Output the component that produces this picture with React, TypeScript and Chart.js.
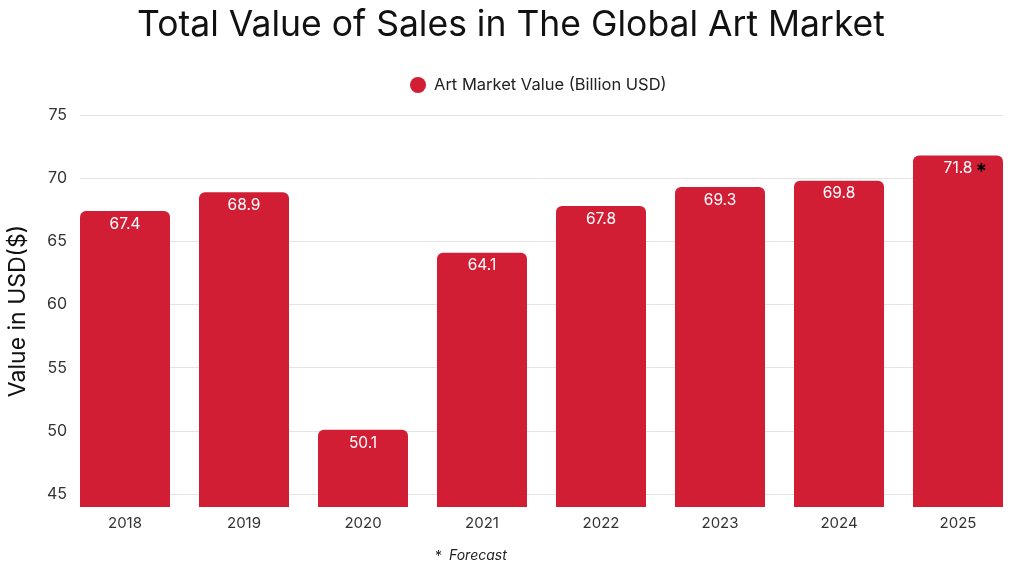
import React, { useEffect, useRef } from "react";
import { Chart, registerables } from "chart.js";

Chart.register(...registerables);

const categories = ["2018", "2019", "2020", "2021", "2022", "2023", "2024", "2025"];
const values = [67.4, 68.9, 50.1, 64.1, 67.8, 69.3, 69.8, 71.8];
const forecast = [false, false, false, false, false, false, false, true];
const yTicks = [45, 50, 55, 60, 65, 70, 75];
const seriesName = "Art Market Value (Billion USD)";
const titleText = "Total Value of Sales in The Global Art Market";
const yTitle = "Value in USD($)";
const footnote = "Forecast";

const FONT = "Inter, 'Open Sans', sans-serif";
const RED = "#D21E35";

const decorPlugin = {
  id: "decor",
  afterDraw(chart: any) {
    const ctx = chart.ctx as CanvasRenderingContext2D;
    ctx.save();
    // title
    ctx.fillStyle = "#111111";
    ctx.font = `400 35.5px ${FONT}`;
    ctx.textAlign = "center";
    ctx.textBaseline = "middle";
    ctx.fillText(titleText, 511, 25);
    // legend
    ctx.beginPath();
    ctx.arc(418, 85, 8, 0, Math.PI * 2);
    ctx.fillStyle = RED;
    ctx.fill();
    ctx.fillStyle = "#222222";
    ctx.font = `400 16.5px ${FONT}`;
    ctx.textAlign = "left";
    ctx.fillText(seriesName, 434, 85);
    // footnote
    ctx.font = `400 14px ${FONT}`;
    ctx.fillText("*", 435, 557);
    ctx.font = `italic 400 14px ${FONT}`;
    ctx.fillText(footnote, 449, 556);
    ctx.restore();
  },
  afterDatasetsDraw(chart: any) {
    const ctx = chart.ctx as CanvasRenderingContext2D;
    const meta = chart.getDatasetMeta(0);
    ctx.save();
    ctx.textBaseline = "middle";
    meta.data.forEach((bar: any, i: number) => {
      const txt = values[i].toFixed(1);
      ctx.font = `400 15.5px ${FONT}`;
      ctx.fillStyle = "#FFFFFF";
      ctx.textAlign = "center";
      ctx.fillText(txt, bar.x, bar.y + 13);
      if (forecast[i]) {
        const w = ctx.measureText(txt).width;
        ctx.fillStyle = "#000000";
        ctx.font = `700 21px ${FONT}`;
        ctx.textAlign = "left";
        ctx.fillText("*", bar.x + w / 2 + 3, bar.y + 17);
      }
    });
    ctx.restore();
  },
};

export default function App() {
  const ref = useRef<HTMLCanvasElement | null>(null);
  useEffect(() => {
    document.body.style.margin = "0";
    const canvas = ref.current;
    if (!canvas) return;
    const chart = new Chart(canvas, {
      type: "bar",
      data: {
        datasets: [
          {
            label: seriesName,
            data: values.map((v, i) => ({ x: i, y: v })),
            backgroundColor: RED,
            borderRadius: { topLeft: 6, topRight: 6, bottomLeft: 0, bottomRight: 0 },
            borderSkipped: "bottom",
            barPercentage: 90 / 119,
            categoryPercentage: 1,
          },
        ],
      },
      options: {
        responsive: false,
        animation: false,
        devicePixelRatio: 1,
        layout: { padding: { top: 115, right: 21, bottom: 37, left: 0 } },
        plugins: {
          legend: { display: false },
          title: { display: false },
          tooltip: { enabled: false },
        },
        scales: {
          x: {
            type: "linear",
            offset: false,
            min: -45 / 119,
            max: 7 + 45 / 119,
            grid: { display: false, drawTicks: false },
            border: { display: false },
            afterBuildTicks: (scale: any) => {
              scale.ticks = categories.map((_, i) => ({ value: i }));
            },
            ticks: {
              autoSkip: false,
              maxRotation: 0,
              padding: 7,
              color: "#333333",
              font: { family: FONT, size: 15 },
              callback: (v: any) => categories[Math.round(Number(v))] ?? "",
            },
          },
          y: {
            min: 44,
            max: 75,
            afterBuildTicks: (scale: any) => {
              scale.ticks = yTicks.map((v) => ({ value: v }));
            },
            afterFit: (scale: any) => {
              scale.width = 80;
            },
            grid: { color: "#E3E3E3", drawTicks: false, lineWidth: 1 },
            border: { display: false },
            ticks: {
              padding: 13,
              color: "#333333",
              font: { family: FONT, size: 16 },
            },
            title: {
              display: true,
              text: yTitle,
              color: "#111111",
              font: { family: FONT, size: 23 },
              padding: { top: 4, bottom: 0 },
            },
          },
        },
      },
      plugins: [decorPlugin],
    });
    return () => chart.destroy();
  }, []);
  return (
    <div style={{ position: "absolute", left: 0, top: 0, width: 1024, height: 576, background: "#fff" }}>
      <canvas ref={ref} width={1024} height={576} style={{ width: 1024, height: 576, display: "block" }} />
    </div>
  );
}
